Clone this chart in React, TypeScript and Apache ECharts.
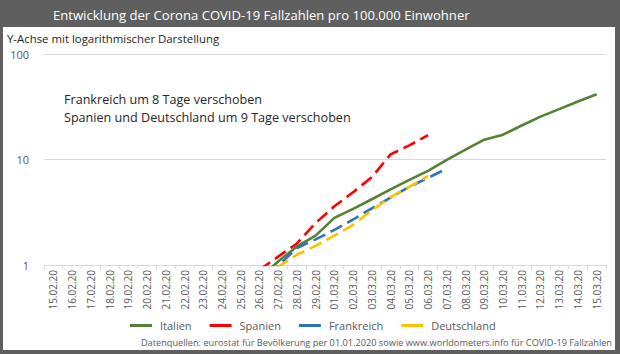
import React, { useEffect, useRef } from "react";
import * as echarts from "echarts";

const dates = [
  "15.02.20", "16.02.20", "17.02.20", "18.02.20", "19.02.20", "20.02.20",
  "21.02.20", "22.02.20", "23.02.20", "24.02.20", "25.02.20", "26.02.20",
  "27.02.20", "28.02.20", "29.02.20", "01.03.20", "02.03.20", "03.03.20",
  "04.03.20", "05.03.20", "06.03.20", "07.03.20", "08.03.20", "09.03.20",
  "10.03.20", "11.03.20", "12.03.20", "13.03.20", "14.03.20", "15.03.20",
];

const N = null;
// values per 100.000 inhabitants, starting 15.02.20
const italien = [N, N, N, N, N, N, N, N, N, N, N, 0.75,
  1.08, 1.5, 1.9, 2.8, 3.4, 4.2, 5.2, 6.4, 7.8, 9.9, 12.4, 15.4,
  17.2, 21.0, 25.5, 30.0, 35.5, 41.5];
const spanien = [N, N, N, N, N, N, N, N, N, N, N, 0.9,
  1.2, 1.6, 2.5, 3.6, 4.9, 6.8, 11.2, 13.6, 17.0, N, N, N,
  N, N, N, N, N, N];
const frankreich = [N, N, N, N, N, N, N, N, N, N, N, 0.56,
  0.98, 1.45, 1.75, 2.15, 2.7, 3.45, 4.35, 5.5, 6.7, 8.2, N, N,
  N, N, N, N, N, N];
const deutschland = [N, N, N, N, N, N, N, N, N, N, N, 0.8,
  0.96, 1.25, 1.52, 1.9, 2.4, 3.3, 4.4, 5.5, 7.0, N, N, N,
  N, N, N, N, N, N];

const FONT = "'Open Sans', sans-serif";

export default function App() {
  const ref = useRef<HTMLDivElement>(null);
  useEffect(() => {
    if (!ref.current) return;
    const chart = echarts.init(ref.current, undefined, { renderer: "svg" });
    const dash = [13, 6];
    const line = (name: string, data: (number | null)[], color: string, type: any) => ({
      name,
      type: "line",
      data,
      symbol: "none",
      showSymbol: false,
      connectNulls: false,
      clip: true,
      lineStyle: { color, width: 2.6, type, cap: "butt" },
      itemStyle: { color },
      emphasis: { disabled: true },
    });
    chart.setOption({
      animation: false,
      backgroundColor: "#ffffff",
      textStyle: { fontFamily: FONT },
      title: {
        text: "Entwicklung der Corona COVID-19 Fallzahlen pro 100.000 Einwohner",
        left: 53,
        top: 5,
        padding: 0,
        textStyle: { color: "#ffffff", fontSize: 13.1, fontWeight: "normal", fontFamily: FONT, lineHeight: 20 },
        z: 20,
      },
      graphic: [
        { type: "rect", shape: { x: 0, y: 0, width: 620, height: 27 }, style: { fill: "#5f5f5f" }, z: 10 },
        { type: "rect", shape: { x: 0, y: 0, width: 3, height: 354 }, style: { fill: "#5f5f5f" }, z: 10 },
        { type: "rect", shape: { x: 615, y: 0, width: 5, height: 354 }, style: { fill: "#5f5f5f" }, z: 10 },
        { type: "rect", shape: { x: 0, y: 350, width: 620, height: 4 }, style: { fill: "#5f5f5f" }, z: 10 },
        {
          type: "text", x: 7, y: 38,
          style: { text: "Y-Achse mit logarithmischer Darstellung", fill: "#262626", font: `11.4px ${FONT}`, textVerticalAlign: "middle" },
        },
        {
          type: "text", x: 64, y: 99,
          style: { text: "Frankreich um 8 Tage verschoben", fill: "#262626", font: `12.6px ${FONT}`, textVerticalAlign: "middle" },
        },
        {
          type: "text", x: 64, y: 117,
          style: { text: "Spanien und Deutschland um 9 Tage verschoben", fill: "#262626", font: `12.6px ${FONT}`, textVerticalAlign: "middle" },
        },
        {
          type: "text", x: 612, y: 342,
          style: {
            text: "Datenquellen: eurostat für Bevölkerung per 01.01.2020 sowie www.worldometers.info für COVID-19 Fallzahlen",
            fill: "#595959", font: `9.2px ${FONT}`, textAlign: "right", textVerticalAlign: "middle",
          },
        },
      ],
      legend: {
        left: 130,
        top: 320,
        padding: 0,
        icon: "rect",
        itemWidth: 22,
        itemHeight: 3,
        itemGap: 18,
        data: ["Italien", "Spanien", "Frankreich", "Deutschland"],
        textStyle: { color: "#595959", fontSize: 11, fontFamily: FONT, padding: [0, 0, 0, 3] },
      },
      grid: { left: 44, right: 14, top: 54, bottom: 89, containLabel: false },
      xAxis: {
        type: "category",
        data: dates,
        boundaryGap: true,
        axisLine: { show: true, lineStyle: { color: "#d9d9d9", width: 1 } },
        axisTick: { show: true, alignWithLabel: false, length: 4, lineStyle: { color: "#d9d9d9" } },
        axisLabel: { rotate: 90, interval: 0, color: "#595959", fontSize: 10, margin: 5, fontFamily: FONT },
        splitLine: { show: false },
      },
      yAxis: {
        type: "log",
        logBase: 10,
        min: 1,
        max: 100,
        axisLine: { show: false },
        axisTick: { show: false },
        axisLabel: { color: "#595959", fontSize: 11, margin: 15, fontFamily: FONT },
        splitLine: { show: true, lineStyle: { color: "#d9d9d9", width: 1 } },
        minorSplitLine: { show: false },
      },
      series: [
        line("Italien", italien, "#548235", "solid"),
        line("Spanien", spanien, "#ff0000", dash),
        line("Frankreich", frankreich, "#2e75b6", dash),
        line("Deutschland", deutschland, "#ffc000", dash),
      ],
    });
    return () => chart.dispose();
  }, []);
  return <div ref={ref} style={{ position: "fixed", left: 0, top: 0, width: 620, height: 354 }} />;
}
